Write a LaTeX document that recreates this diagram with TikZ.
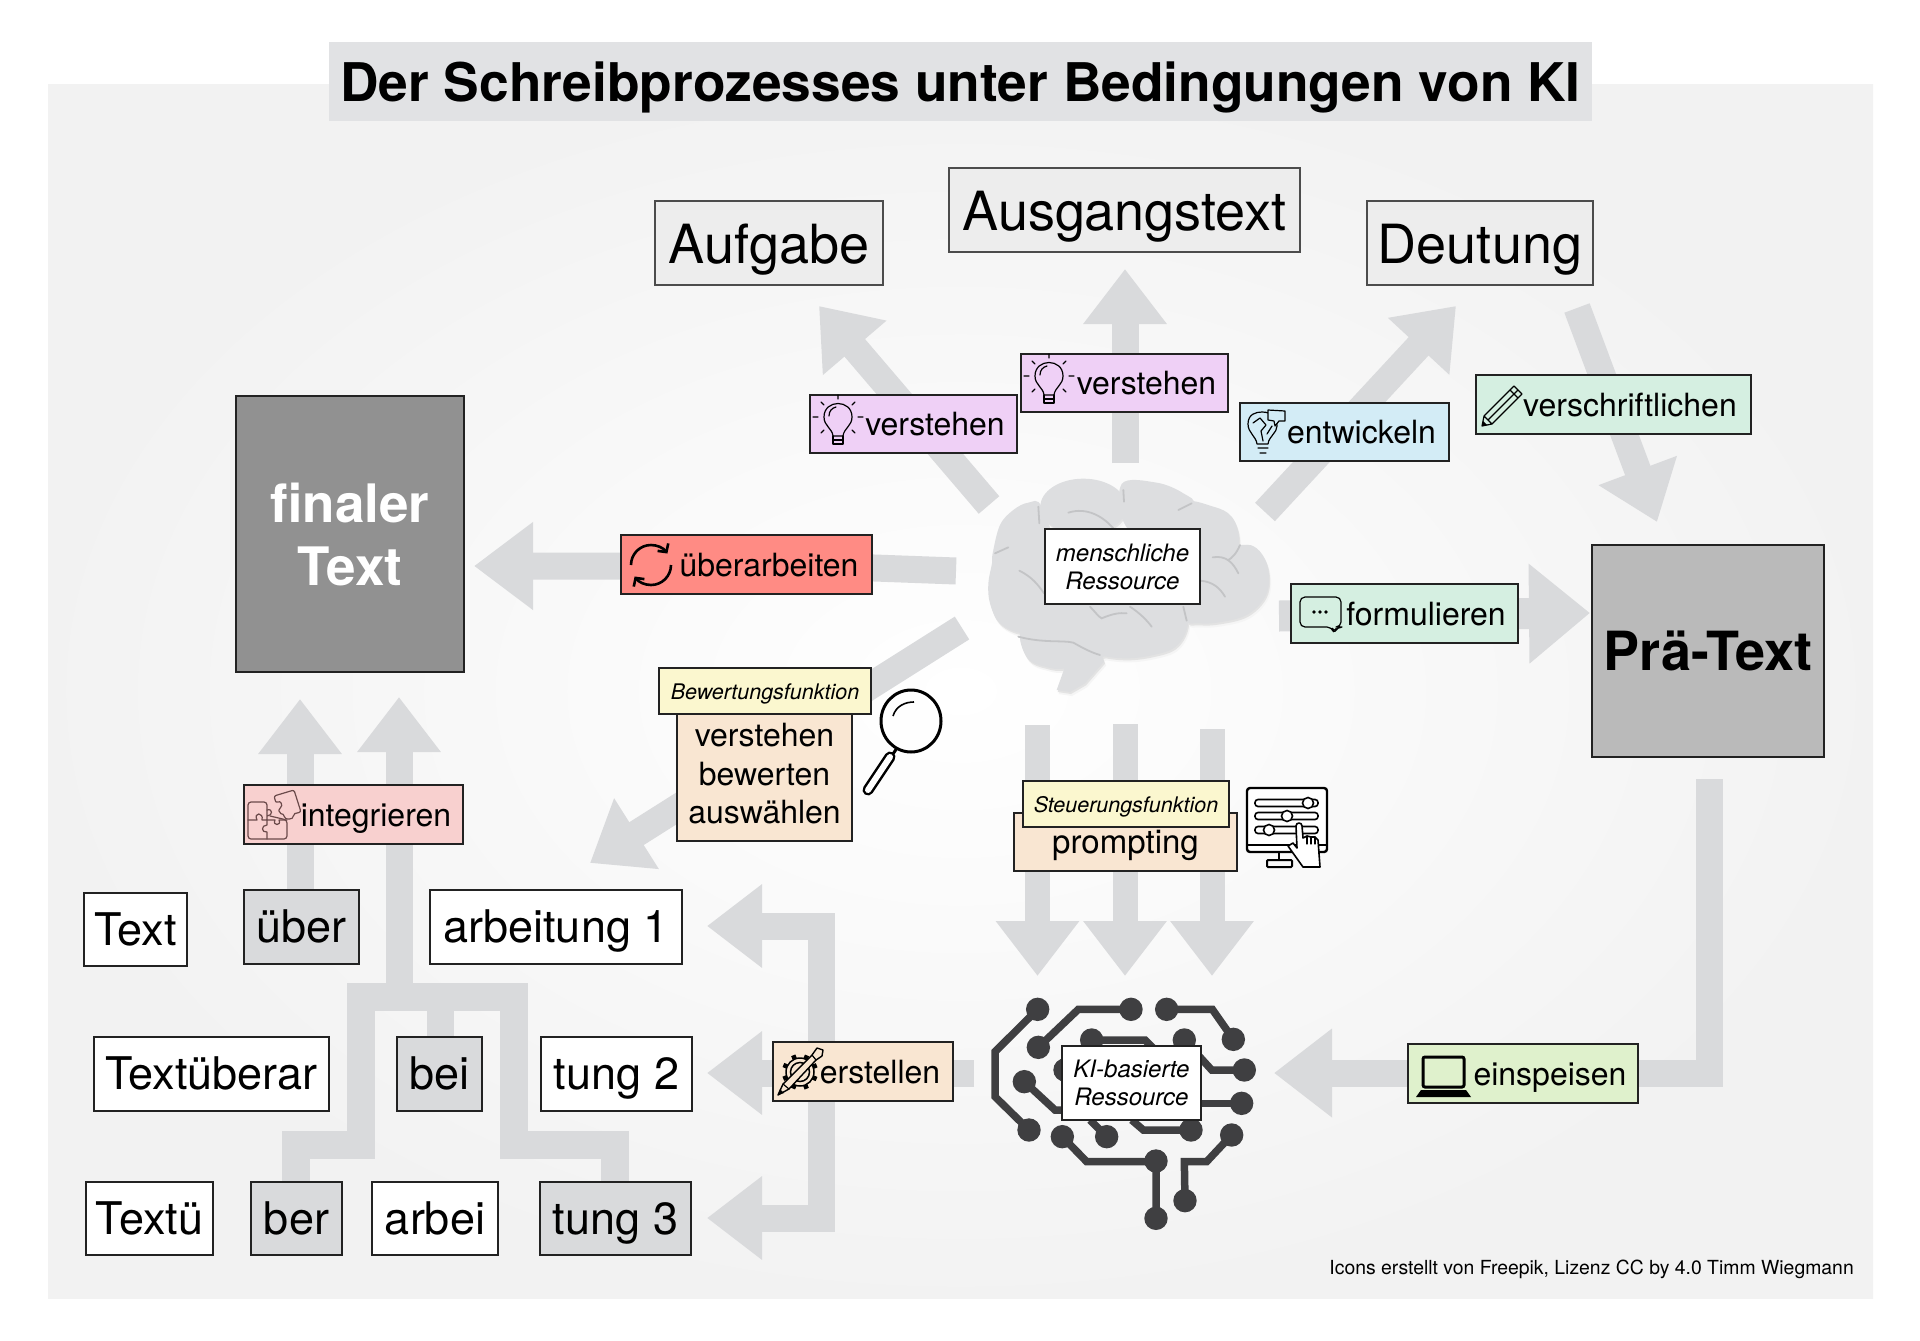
\documentclass[tikz,border=0pt]{standalone}
\usepackage{fontspec}
\setmainfont{TeX Gyre Heros}
\usetikzlibrary{arrows.meta,calc}
\definecolor{arr}{HTML}{D9DADC}
\definecolor{ttl}{HTML}{E1E2E4}
\definecolor{purp}{HTML}{EFD0F6}
\definecolor{blu}{HTML}{D3ECF6}
\definecolor{mint}{HTML}{D5EFE1}
\definecolor{redb}{HTML}{FF8B84}
\definecolor{pinkb}{HTML}{F8D0CF}
\definecolor{yel}{HTML}{FBF7CF}
\definecolor{peach}{HTML}{F9E6D2}
\definecolor{lime}{HTML}{DFF1CC}
\definecolor{braing}{HTML}{DDDEE0}
\definecolor{brainl}{HTML}{C3C4C6}
\definecolor{circ}{HTML}{3F3F41}
\definecolor{edgeb}{HTML}{222222}
\definecolor{puz}{HTML}{6B4A4A}
\newcommand\dbox[7]{\pgfmathsetmacro\bxa{(#2+#4)/2}\pgfmathsetmacro\bxb{(#3+#5)/2}\pgfmathsetmacro\bxw{#4-#2}\pgfmathsetmacro\bxh{#5-#3}\node[#6,minimum width=\bxw pt,minimum height=\bxh pt] (#1) at (\bxa,\bxb) {#7};}
\newcommand\brainlobes[2]{\begin{scope}[shift={(#1)},x=0.33333pt,y=-0.33333pt]
\fill[#2] plot[smooth cycle,tension=0.6] coordinates {(68,280) (90,195) (130,150) (175,128) (215,140) (260,300) (250,500) (160,520) (90,490) (60,430) (55,370) (66,310)};
\fill[#2] (340,140) ellipse[x radius=43pt,y radius=28pt];
\fill[#2] plot[smooth cycle,tension=0.6] coordinates {(455,72) (560,68) (640,100) (672,140) (600,250) (470,200)};
\fill[#2] plot[smooth cycle,tension=0.6] coordinates {(640,130) (730,140) (785,170) (807,235) (790,300) (700,320) (620,250)};
\fill[#2] plot[smooth cycle,tension=0.6] coordinates {(700,280) (815,255) (860,265) (890,310) (897,370) (880,420) (830,465) (760,485) (690,490) (640,470) (640,300)};
\fill[#2] plot[smooth cycle,tension=0.6] coordinates {(300,300) (600,330) (648,450) (650,510) (615,562) (550,585) (470,595) (390,585) (320,550) (250,530) (240,400)};
\fill[#2] plot[smooth cycle,tension=0.6] coordinates {(150,535) (175,597) (225,620) (285,625) (400,590) (450,560) (300,490) (170,490)};
\fill[#2] (285,620) -- (260,690) -- (300,696) -- (345,670) -- (402,605) -- (390,570) -- cycle;
\end{scope}}
\tikzset{
  basebox/.style={draw=edgeb,line width=1.5pt,inner sep=0pt,outer sep=0pt,align=center},
  head/.style={basebox,draw=black!70,fill=#1,font=\fontsize{54}{60}\selectfont,text height=52pt,text depth=11pt},
  seg/.style={basebox,fill=#1,font=\fontsize{45}{50}\selectfont,text height=40pt,text depth=9pt},
  verb/.style={basebox,fill=#1,font=\fontsize{32}{39}\selectfont,text height=30pt,text depth=7pt},
  role/.style={basebox,fill=#1,font=\itshape\fontsize{21.5}{26}\selectfont,text height=21pt,text depth=5pt},
  res/.style={basebox,fill=white,font=\itshape\fontsize{24}{28}\selectfont},
  blk/.style={draw=arr,line width=27pt,line join=miter,-{Triangle[length=55pt,width=80pt]}},
  bar/.style={draw=arr,line width=27pt,line join=miter},
  ic/.style={draw=black,line width=1.2pt,line join=round,line cap=round},
  pz/.style={draw=puz,line width=1.2pt,line join=round,line cap=round},
  trace/.style={draw=circ,line width=7.5pt,line join=miter},
  fold/.style={draw=brainl,line width=1.8pt,line cap=round},
  pics/bulb/.style={code={
    \draw[ic] (-5,11) .. controls (-6,3) and (-14,1) .. (-14,-8) .. controls (-14,-26) and (14,-26) .. (14,-8) .. controls (14,1) and (6,3) .. (5,11) -- cycle;
    \draw[ic] (-5,11) -- (-5,19) -- (5,19) -- (5,11) (-5,15) -- (5,15);
    \draw[ic] (-9,-9) .. controls (-9,-14) and (-6,-17) .. (-2,-18);
    \draw[ic] (-25,-8) -- (-20,-8) (20,-8) -- (25,-8) (0,-30) -- (0,-26)
      (-17,-23) -- (-14,-20) (17,-23) -- (14,-20) (-17,8) -- (-14,5) (17,8) -- (14,5);
  }},
}
\begin{document}
\begin{tikzpicture}[x=1pt,y=-1pt]
\useasboundingbox (0,0) rectangle (1920,1341);
\fill[white] (0,0) rectangle (1920,1341);
\shade[inner color=white,outer color=black!5] (48,84) rectangle (1873,1298);
% coordinates of block arrows
\coordinate (hubA) at (989,505); \coordinate (tipA) at (819,306);
\coordinate (hubB) at (1125,463); \coordinate (tipB) at (1125,269);
\coordinate (hubC) at (1265,512); \coordinate (tipC) at (1456,306);
\coordinate (hubD) at (1577,308); \coordinate (tipD) at (1657,522);
\coordinate (hubE) at (956,571); \coordinate (midE) at (820,566); \coordinate (tipE) at (474,566);
\coordinate (hubF) at (1279,616); \coordinate (tipF) at (1590,613);
\coordinate (hubG) at (962,628); \coordinate (tipG) at (590,863);
\coordinate (d1a) at (1037.5,725); \coordinate (d1b) at (1037.5,976);
\coordinate (d2a) at (1125,724); \coordinate (d2b) at (1125,976);
\coordinate (d3a) at (1212,729); \coordinate (d3b) at (1212,976);
\coordinate (p1) at (1709,779); \coordinate (p2) at (1709,1073); \coordinate (p3) at (1274,1073);
\coordinate (k1) at (974,1073); \coordinate (k2) at (707,1073);
\coordinate (t0) at (821,1073); \coordinate (t1) at (821,926); \coordinate (t2) at (707,926);
\coordinate (t3) at (821,1218); \coordinate (t4) at (707,1218);
\coordinate (m1) at (399,997); \coordinate (m2) at (399,697);
\coordinate (u1) at (300,895); \coordinate (u2) at (300,699);
\coordinate (bl) at (361,997); \coordinate (br) at (514,997);
\coordinate (l1) at (361,1145); \coordinate (l2) at (296,1145); \coordinate (l3) at (296,1185);
\coordinate (r1) at (514,1145); \coordinate (r2) at (615,1145); \coordinate (r3) at (615,1185);
\coordinate (c1) at (440,997); \coordinate (c2) at (440,1040);
% block arrows
\draw[blk] (hubA) -- (tipA);
\draw[blk] (hubB) -- (tipB);
\draw[blk] (hubC) -- (tipC);
\draw[blk] (hubD) -- (tipD);
\draw[blk,arrows={-Triangle[length=59pt,width=84pt]}] (hubE) -- (midE) -- (tipE);
\draw[blk,line width=31pt,arrows={-Triangle[length=61pt,width=96pt]}] (hubF) -- (tipF);
\draw[blk] (hubG) -- (tipG);
\draw[blk,line width=25pt] (d1a) -- (d1b);
\draw[blk,line width=25pt] (d2a) -- (d2b);
\draw[blk,line width=25pt] (d3a) -- (d3b);
\draw[blk,arrows={-Triangle[length=58pt,width=85pt]}] (p1) -- (p2) -- (p3);
\draw[blk] (k1) -- (k2);
\draw[blk] (t0) -- (t1) -- (t2);
\draw[blk] (t0) -- (t3) -- (t4);
\draw[blk] (m1) -- (m2);
\draw[blk] (u1) -- (u2);
\draw[bar,line width=28pt] (l3) -- (l2) -- (l1) -- (bl) -- (br) -- (r1) -- (r2) -- (r3);
\draw[bar] (c1) -- (c2);
% human brain
\brainlobes{972,464}{black!4}
\brainlobes{971,462}{black!11}
\brainlobes{970,460}{braing}
\begin{scope}[shift={(970,460)},x=0.33333pt,y=-0.33333pt]
\draw[fold] (460,90) -- (462,125);
\draw[fold] (205,140) -- (208,190);
\draw[fold] (295,158) .. controls (350,140) and (400,170) .. (430,205);
\draw[fold] (625,150) -- (665,130);
\draw[fold] (75,280) -- (115,262);
\draw[fold] (148,332) .. controls (185,350) and (205,375) .. (222,400);
\draw[fold] (728,292) .. controls (770,285) and (790,310) .. (805,340);
\draw[fold] (810,255) .. controls (800,280) and (785,295) .. (775,300);
\draw[fold] (690,362) .. controls (730,365) and (750,385) .. (765,410);
\draw[fold] (360,440) .. controls (375,455) and (385,470) .. (395,475) .. controls (430,460) and (450,458) .. (470,460);
\draw[fold] (480,440) .. controls (510,460) and (530,480) .. (545,500);
\draw[fold] (640,440) -- (650,482);
\draw[fold] (145,530) .. controls (220,550) and (280,540) .. (310,548) .. controls (340,565) and (365,578) .. (390,585);
\end{scope}
% AI brain
\begin{scope}[shift={(975,980)},x=0.33333pt,y=-0.33333pt]
\draw[trace] (188,88) -- (60,215) -- (60,350) -- (162,450);
\draw[trace] (190,202) -- (310,88) -- (468,88);
\draw[trace] (575,88) -- (712,88) -- (775,178);
\draw[trace] (350,180) -- (510,180) -- (570,240);
\draw[trace] (628,180) -- (710,270) -- (808,270);
\draw[trace] (148,305) -- (240,390) -- (300,390);
\draw[trace] (800,370) -- (660,370);
\draw[trace] (395,470) -- (345,420);
\draw[trace] (648,450) -- (505,450) -- (470,420);
\draw[trace] (262,470) -- (335,545) -- (543,545) -- (543,715);
\draw[trace] (770,465) -- (695,545) -- (628,545) -- (630,662);
\foreach \qx/\qy in {188/88,468/88,575/88,775/178,190/202,350/180,628/180,808/270,270/270,148/305,800/370,162/450,262/470,395/470,648/450,770/465,543/543,630/662,543/715}
  {\fill[circ] (\qx,\qy) circle[radius=11.7pt];}
\end{scope}
% title
\dbox{title}{329}{42}{1592}{121}{draw=none,fill=ttl,inner sep=0pt,text height=51pt,text depth=12pt,font=\bfseries\fontsize{53.3}{60}\selectfont}{Der Schreibprozesses unter Bedingungen von KI}
% top boxes
\dbox{aufgabe}{655}{201}{883}{285}{head=black!7}{Aufgabe}
\dbox{ausgang}{949}{168}{1300}{252}{head=black!7}{Ausgangstext}
\dbox{deutung}{1367}{201}{1593}{285}{head=black!7}{Deutung}
\dbox{final}{236}{396}{464}{672}{basebox,fill=black!43,text=white,font=\bfseries\fontsize{53}{63}\selectfont}{finaler\\Text}
\dbox{prae}{1592}{545}{1824}{757}{basebox,fill=black!27,font=\bfseries\fontsize{54}{64}\selectfont}{Prä-Text}
% verbs
\dbox{vL}{810}{395}{1017}{453}{verb=purp}{\hspace*{43pt}verstehen}
\dbox{vM}{1021}{354}{1228}{412}{verb=purp}{\hspace*{44pt}verstehen}
\dbox{entw}{1240}{403}{1449}{461}{verb=blu}{\hspace*{34pt}entwickeln}
\dbox{versch}{1476}{375}{1751}{434}{verb=mint}{\hspace*{33pt}verschriftlichen}
\dbox{ueber}{621}{535}{872}{594}{verb=redb}{\hspace*{45pt}überarbeiten}
\dbox{form}{1291}{584}{1518}{643}{verb=mint}{\hspace*{43pt}formulieren}
\dbox{integ}{244}{785}{463}{844}{verb=pinkb}{\hspace*{45pt}integrieren}
\dbox{erst}{773}{1042}{953}{1101}{verb=peach}{\hspace*{34pt}erstellen}
\dbox{einsp}{1408}{1044}{1638}{1103}{verb=lime}{\hspace*{54pt}einspeisen}
% resources
\dbox{human}{1045}{529}{1200}{604}{res}{menschliche\\Ressource}
\dbox{kires}{1062}{1046}{1201}{1120}{res}{KI-basierte\\Ressource}
% evaluation and control
\dbox{verst}{677}{714}{852}{841}{basebox,fill=peach,font=\fontsize{32}{38.6}\selectfont}{\raisebox{4pt}{\begin{tabular}{@{}c@{}}verstehen\\bewerten\\auswählen\end{tabular}}\rule[-4pt]{0pt}{0pt}}
\dbox{bew}{659}{668}{871}{714}{role=yel}{Bewertungsfunktion}
\dbox{prompt}{1014}{813}{1237}{871}{basebox,fill=peach,text height=30.5pt,text depth=7pt,font=\fontsize{33}{39}\selectfont}{prompting}
\dbox{steu}{1023}{781}{1229}{827}{role=yel}{Steuerungsfunktion}
% text segments
\dbox{s1}{84}{893}{187}{966}{seg=white}{Text}
\dbox{s2}{244}{890}{359}{964}{seg=arr}{über}
\dbox{s3}{430}{890}{682}{964}{seg=white}{arbeitung 1}
\dbox{s4}{94}{1037}{329}{1111}{seg=white}{Textüberar}
\dbox{s5}{397}{1037}{482}{1111}{seg=arr}{bei}
\dbox{s6}{541}{1037}{692}{1111}{seg=white}{tung 2}
\dbox{s7}{86}{1182}{213}{1255}{seg=white}{Textü}
\dbox{s8}{251}{1182}{342}{1255}{seg=arr}{ber}
\dbox{s9}{372}{1182}{498}{1255}{seg=white}{arbei}
\dbox{s10}{540}{1182}{691}{1255}{seg=arr}{tung 3}
% footer
\node[inner sep=0pt,anchor=east,font=\fontsize{19.4}{22}\selectfont] (credit) at (1854,1269) {Icons erstellt von Freepik, Lizenz CC by 4.0 Timm Wiegmann};
% icons
\pic at (838,425) {bulb};
\pic at (1049,384) {bulb};
% globe bulb (entwickeln)
\draw[ic] (1257,444) .. controls (1256,436) and (1248,433) .. (1248,424) .. controls (1248,414) and (1256,412) .. (1262,412) .. controls (1272,412) and (1277,418) .. (1277,426) .. controls (1277,433) and (1269,436) .. (1268,444) -- cycle;
\draw[ic] (1258,448) -- (1268,448) (1260,453) -- (1266,453) (1253,423) -- (1260,418) -- (1266,425) -- (1261,431) -- (1263,441) (1272,426) -- (1267,434);
\draw[ic,fill=blu] (1268,410) -- (1285,411) -- (1285,421) -- (1279,421) -- (1275,426) -- (1274,421) -- (1268,420) -- cycle;
% pencil
\draw[ic] (1482,426) -- (1484,416) -- (1514,386) -- (1522,394) -- (1492,424) -- cycle (1484,416) -- (1492,424) (1488,420) -- (1518,390) (1510,390) -- (1518,398);
\fill (1482,426) -- (1483,421) -- (1487,425) -- cycle;
% refresh
\draw[line width=2.6pt,-{Straight Barb[length=6pt,width=13pt]}] (631,565) arc[start angle=180,end angle=35,radius=20pt];
\draw[line width=2.6pt,-{Straight Barb[length=6pt,width=13pt]}] (671,565) arc[start angle=0,end angle=-145,radius=20pt];
% chat bubble
\draw[ic,rounded corners=5pt] (1334,633) -- (1332,627) -- (1300,627) -- (1300,597) -- (1341,597) -- (1341,627) -- (1337,627) -- cycle;
\fill (1314,612) circle[radius=1.8pt] (1320,612) circle[radius=1.8pt] (1326,612) circle[radius=1.8pt];
% magnifier
\draw[line width=3pt] (911,721) ellipse[x radius=30pt,y radius=31pt];
\draw[line width=1.6pt] (893,716) .. controls (896,706) and (905,702) .. (914,702);
\draw[line width=3pt] (897,748) -- (891,757);
\draw[line width=11pt,line cap=round] (890,757) -- (868,790);
\draw[white,line width=6pt,line cap=round] (890,757) -- (868,790);
% control panel
\draw[line width=2.4pt,rounded corners=3pt,fill=white] (1247,788) rectangle (1327,852);
\draw[line width=2pt] (1248,845) -- (1326,845) (1279,852) -- (1279,860);
\draw[line width=2pt,rounded corners=1pt] (1267,860) rectangle (1292,867);
\foreach \yy/\kk in {803/1308,816/1287,830/1269}{
  \draw[line width=1.6pt,rounded corners=3pt] (1255,\yy-3.5) rectangle (1318,\yy+3.5);
  \draw[line width=1.6pt,fill=white] (\kk,\yy) circle[radius=5.5pt];
}
\draw[ic,line width=1.6pt,fill=white] (1303,867) -- (1288,846) -- (1293,843) -- (1297,848) -- (1296,826) .. controls (1296,822) and (1302,822) .. (1302,826) -- (1303,838) -- (1307,836) -- (1311,837) -- (1315,837) -- (1318,840) -- (1320,867) -- cycle;
\draw[ic,line width=1.3pt] (1307,836) -- (1307,844) (1311,837) -- (1311,844) (1315,837) -- (1315,844);
% puzzle
\draw[pz,rounded corners=3pt] (248,830) -- (248,802) -- (267,802) -- (267,810) (270,816) -- (287,820) -- (287,839) -- (248,839) -- (248,830);
\draw[pz] (248,820) -- (257,820) .. controls (253,812) and (264,812) .. (262,820) -- (267,820) -- (267,810) .. controls (273,808) and (273,816) .. (267,816);
\draw[pz] (267,820) -- (267,825) .. controls (261,825) and (261,833) .. (267,832) -- (267,839);
\draw[pz] (267,820) -- (275,820) .. controls (272,826) and (282,826) .. (279,820) -- (287,820);
\draw[pz,rounded corners=2pt] (274,796) -- (294,790) -- (301,812) -- (293,814) .. controls (294,820) and (284,820) .. (285,815) -- (279,813) -- (279,808) .. controls (283,806) and (281,800) .. (276,803) -- cycle;
% cog pen
\draw[line width=1.5pt] (800,1072) circle[radius=14pt];
\draw[line width=1.5pt] (800,1072) circle[radius=9.5pt];
\foreach \aa in {0,45,...,315}{\draw[line width=4.5pt] ($(800,1072)+(\aa+22:14pt)$) -- ($(800,1072)+(\aa+22:18pt)$);}
\draw[ic,line width=1.4pt,fill=peach] (778,1095) -- (783,1084) -- (812,1055) -- (817,1048) -- (823,1050) -- (822,1056) -- (816,1060) -- (789,1089) -- cycle;
\draw[ic] (783,1084) -- (789,1089) (812,1055) -- (816,1060);
\fill (778,1095) -- (780,1089) -- (784,1093) -- cycle;
% laptop
\draw[line width=3pt,rounded corners=2pt] (1423,1057) rectangle (1464,1087);
\fill (1421,1090) -- (1466,1090) -- (1471,1097) -- (1416,1097) -- cycle;
\end{tikzpicture}
\end{document}
